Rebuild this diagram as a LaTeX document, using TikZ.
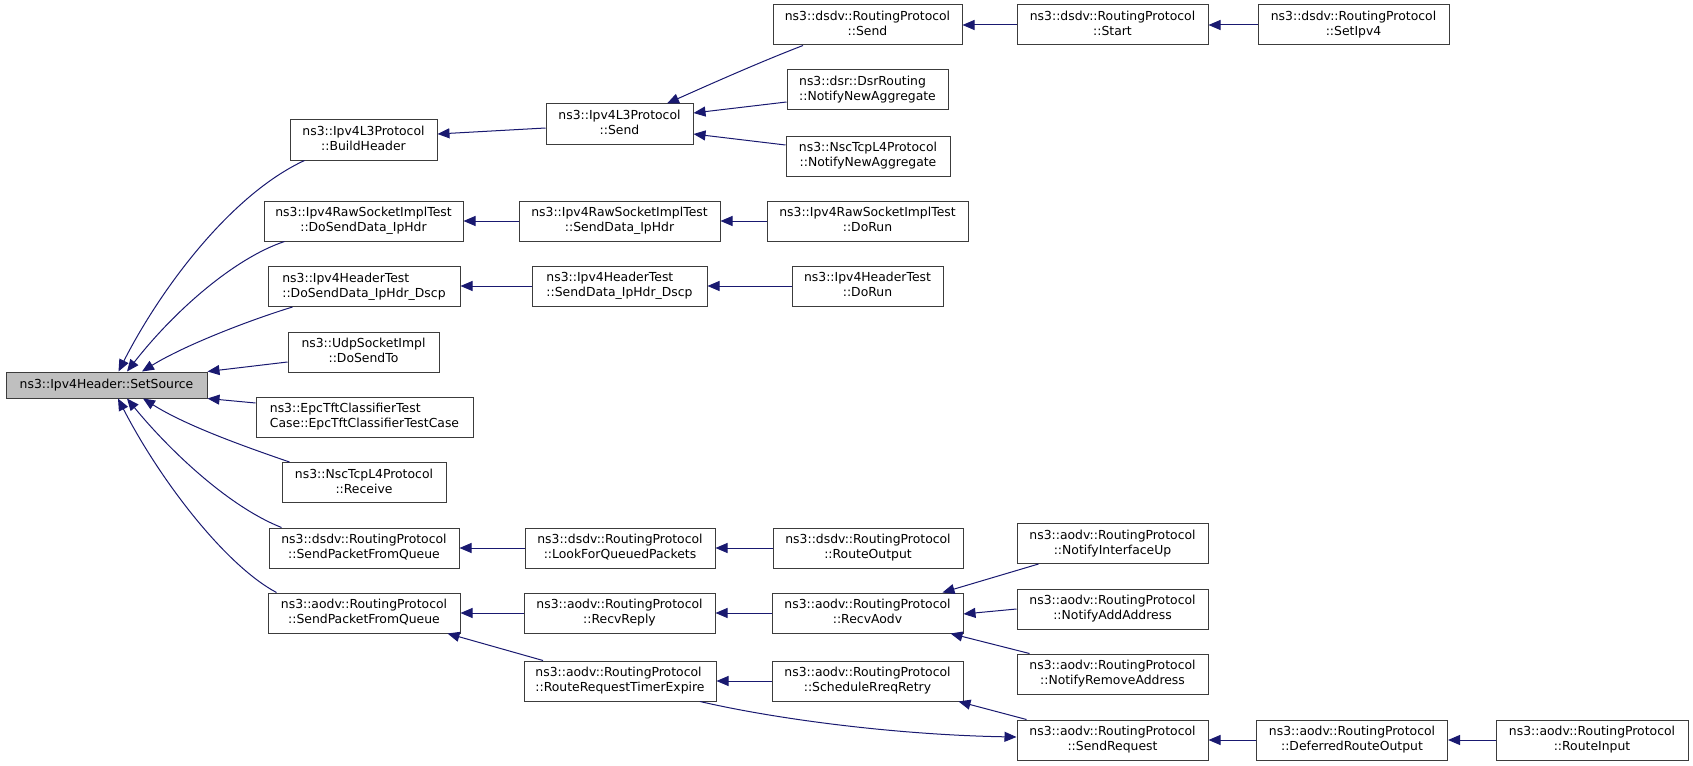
\documentclass[tikz,border=0pt]{standalone}
\usepackage{fontspec}
\setmainfont{DejaVu Sans}
\usetikzlibrary{arrows.meta}
\definecolor{edgec}{RGB}{25,25,112}
\definecolor{bord}{RGB}{60,60,60}
\definecolor{rootfill}{RGB}{191,191,191}
\newcommand\twoline[2]{\begin{tabular}{@{}l@{}}#1\\\multicolumn{1}{@{}c@{}}{#2}\end{tabular}}
\tikzset{
  box/.style={draw=bord, line width=1pt, minimum height=40pt, inner sep=0pt, fill=white,
    font=\fontsize{12.4}{15}\selectfont},
  rootbox/.style={box, fill=rootfill, minimum height=26pt},
  edge/.style={draw=edgec, line width=1pt, -{Triangle[length=12pt,width=10pt]}},
}
\begin{document}
\begin{tikzpicture}[x=1pt,y=-1pt]
\useasboundingbox (0,0) rectangle (1693,765);
% column 0
\node[rootbox, minimum width=201pt] (root) at (106.5,385) {ns3::Ipv4Header::SetSource};
% column 1
\node[box, minimum width=147pt] (bh) at (363.5,140) {\twoline{ns3::Ipv4L3Protocol}{::BuildHeader}};
\node[box, minimum width=199pt] (rawDo) at (363.5,221) {\twoline{ns3::Ipv4RawSocketImplTest}{::DoSendData\_IpHdr}};
\node[box, minimum width=192pt] (hdrDo) at (364,286.5) {\twoline{ns3::Ipv4HeaderTest}{::DoSendData\_IpHdr\_Dscp}};
\node[box, minimum width=151pt] (udp) at (363.5,352) {\twoline{ns3::UdpSocketImpl}{::DoSendTo}};
\node[box, minimum width=217pt] (epc) at (364.5,417) {\twoline{ns3::EpcTftClassifierTest}{Case::EpcTftClassifierTestCase}};
\node[box, minimum width=164pt] (nscR) at (364,482.5) {\twoline{ns3::NscTcpL4Protocol}{::Receive}};
\node[box, minimum width=190pt] (dsdvSP) at (364,548) {\twoline{ns3::dsdv::RoutingProtocol}{::SendPacketFromQueue}};
\node[box, minimum width=192pt] (aodvSP) at (364,613) {\twoline{ns3::aodv::RoutingProtocol}{::SendPacketFromQueue}};
% column 2
\node[box, minimum width=147pt] (l3send) at (619.5,124) {\twoline{ns3::Ipv4L3Protocol}{::Send}};
\node[box, minimum width=201pt] (rawSend) at (619.5,221) {\twoline{ns3::Ipv4RawSocketImplTest}{::SendData\_IpHdr}};
\node[box, minimum width=175pt] (hdrSend) at (619.5,286) {\twoline{ns3::Ipv4HeaderTest}{::SendData\_IpHdr\_Dscp}};
\node[box, minimum width=190pt] (lookQ) at (620,548) {\twoline{ns3::dsdv::RoutingProtocol}{::LookForQueuedPackets}};
\node[box, minimum width=191pt] (recvReply) at (619.5,613) {\twoline{ns3::aodv::RoutingProtocol}{::RecvReply}};
\node[box, minimum width=192pt] (rrte) at (620,681) {\twoline{ns3::aodv::RoutingProtocol}{::RouteRequestTimerExpire}};
% column 3
\node[box, minimum width=189pt] (dsdvSend) at (867.5,25) {\twoline{ns3::dsdv::RoutingProtocol}{::Send}};
\node[box, minimum width=161pt] (dsrNNA) at (867.5,90) {\twoline{ns3::dsr::DsrRouting}{::NotifyNewAggregate}};
\node[box, minimum width=164pt] (nscNNA) at (868,156) {\twoline{ns3::NscTcpL4Protocol}{::NotifyNewAggregate}};
\node[box, minimum width=201pt] (rawRun) at (867.5,221) {\twoline{ns3::Ipv4RawSocketImplTest}{::DoRun}};
\node[box, minimum width=151pt] (hdrRun) at (867.5,286) {\twoline{ns3::Ipv4HeaderTest}{::DoRun}};
\node[box, minimum width=190pt] (dsdvRO) at (868,548) {\twoline{ns3::dsdv::RoutingProtocol}{::RouteOutput}};
\node[box, minimum width=191pt] (recvAodv) at (867.5,613) {\twoline{ns3::aodv::RoutingProtocol}{::RecvAodv}};
\node[box, minimum width=191pt] (sched) at (867.5,681) {\twoline{ns3::aodv::RoutingProtocol}{::ScheduleRreqRetry}};
% column 4
\node[box, minimum width=191pt] (start) at (1112.5,25) {\twoline{ns3::dsdv::RoutingProtocol}{::Start}};
\node[box, minimum width=191pt] (niu) at (1112.5,543.5) {\twoline{ns3::aodv::RoutingProtocol}{::NotifyInterfaceUp}};
\node[box, minimum width=191pt] (naa) at (1112.5,609) {\twoline{ns3::aodv::RoutingProtocol}{::NotifyAddAddress}};
\node[box, minimum width=191pt] (nra) at (1112.5,674) {\twoline{ns3::aodv::RoutingProtocol}{::NotifyRemoveAddress}};
\node[box, minimum width=191pt] (sendReq) at (1112.5,740) {\twoline{ns3::aodv::RoutingProtocol}{::SendRequest}};
% column 5
\node[box, minimum width=191pt] (setIpv4) at (1353.5,25) {\twoline{ns3::dsdv::RoutingProtocol}{::SetIpv4}};
\node[box, minimum width=191pt] (deferred) at (1352,740) {\twoline{ns3::aodv::RoutingProtocol}{::DeferredRouteOutput}};
% column 6
\node[box, minimum width=192pt] (routeInput) at (1592,740) {\twoline{ns3::aodv::RoutingProtocol}{::RouteInput}};

% edges into root
\draw[edge] ([xshift=15pt]bh.south west) .. controls (230,195) and (160,290) .. ([xshift=12pt]root.north);
\draw[edge] ([xshift=21pt]rawDo.south west) .. controls (235,258) and (175,310) .. ([xshift=20.5pt]root.north);
\draw[edge] ([xshift=25pt]hdrDo.south west) .. controls (250,320) and (185,345) .. ([xshift=35.5pt]root.north);
\draw[edge] ([yshift=-10pt]udp.west) -- (root.north east);
\draw[edge] ([yshift=14pt]epc.west) -- (root.south east);
\draw[edge] ([xshift=8pt]nscR.north west) .. controls (240,445) and (185,425) .. ([xshift=36.5pt]root.south);
\draw[edge] ([xshift=13pt]dsdvSP.north west) .. controls (225,505) and (165,445) .. ([xshift=20.5pt]root.south);
\draw[edge] ([xshift=9pt]aodvSP.north west) .. controls (225,565) and (160,480) .. ([xshift=11.5pt]root.south);
% upper chains
\draw[edge] ([yshift=-4pt]l3send.west) -- ([yshift=6pt]bh.east);
\draw[edge] ([xshift=-64.5pt]dsdvSend.south) .. controls (765,60) and (715,82) .. ([xshift=47.5pt]l3send.north);
\draw[edge] ([yshift=-12pt]dsrNNA.west) -- ([yshift=11pt]l3send.east);
\draw[edge] ([yshift=11pt]nscNNA.west) -- ([yshift=-10pt]l3send.east);
\draw[edge] (start.west) -- (dsdvSend.east);
\draw[edge] (setIpv4.west) -- (start.east);
\draw[edge] (rawSend.west) -- (rawSend.west -| rawDo.east);
\draw[edge] (rawRun.west) -- (rawSend.east);
\draw[edge] (hdrSend.west) -- (hdrSend.west -| hdrDo.east);
\draw[edge] (hdrRun.west) -- (hdrSend.east);
% lower chains
\draw[edge] (lookQ.west) -- (dsdvSP.east);
\draw[edge] (dsdvRO.west) -- (lookQ.east);
\draw[edge] (recvReply.west) -- (aodvSP.east);
\draw[edge] (recvAodv.west) -- (recvReply.east);
\draw[edge] ([xshift=-77pt]rrte.north) -- ([xshift=-13pt]aodvSP.south east);
\draw[edge] (sched.west) -- (rrte.east);
\draw[edge] ([xshift=80pt]rrte.south) .. controls (780,720) and (900,735) .. ([yshift=3pt]sendReq.west);
\draw[edge] ([xshift=10pt]sendReq.north west) -- ([xshift=-5pt]sched.south east);
\draw[edge] ([xshift=22pt]niu.south west) -- ([xshift=-21pt]recvAodv.north east);
\draw[edge] (naa.west) -- ([yshift=-1pt]recvAodv.east);
\draw[edge] ([xshift=13pt]nra.north west) -- ([xshift=-13pt]recvAodv.south east);
\draw[edge] (deferred.west) -- (sendReq.east);
\draw[edge] (routeInput.west) -- (deferred.east);
\end{tikzpicture}
\end{document}
